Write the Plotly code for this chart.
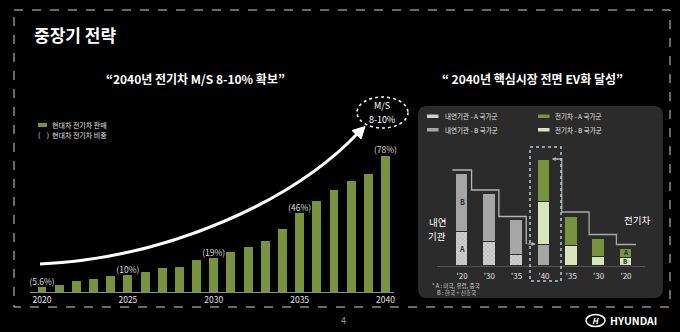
import plotly.graph_objects as go

W, H = 680, 332

# Hyundai EV sales path (relative index) and EV share call-outs
years = list(range(2020, 2041))
ev_sales = [5, 7, 11, 13, 16, 17, 20, 24, 25, 32, 34, 40, 45, 51, 63, 79, 91, 102, 111.5, 118, 136.5]
share_years = [2020, 2025, 2030, 2035, 2040]
share_labels = ["(5.6%)", "(10%)", "(19%)", "(46%)", "(78%)"]
year_ticks = [2020, 2025, 2030, 2035, 2040]

# Core-market powertrain mix: ICE fading out, EV ramping up
mix_ticks = ["'20", "'30", "'35", "'40", "'35", "'30", "'20"]
ice_a = [34, 24, 11.5, 0, 0, 0, 0]
ice_b = [58.5, 48.5, 34.5, 21.5, 0, 0, 0]
ev_b = [0, 0, 0, 43, 20, 9.5, 8.5]
ev_a = [0, 0, 0, 42, 29.5, 17.5, 8.5]

GREEN = "#77933c"
LIGHT_GREEN = "#d8e4bc"
GRAY = "#a6a6a6"
HATCH = "#cfcfcf"
PANEL = "#2b2b2b"


def fx(x):
    return x / W


def fy(y):
    return 1 - y / H


def nz(vals):
    return [v if v else None for v in vals]


fig = go.Figure()

# ---- left: EV sales bars ----
fig.add_bar(x=years, y=ev_sales, width=0.52, marker=dict(color=GREEN, line_width=0),
            xaxis="x", yaxis="y", showlegend=False, hoverinfo="skip")
share_vals = [ev_sales[years.index(y)] for y in share_years]
fig.add_scatter(x=share_years, y=share_vals, mode="text", text=share_labels,
                textposition="top center", textfont=dict(size=8.5, color="#dcdcdc"),
                xaxis="x", yaxis="y", showlegend=False, cliponaxis=False, hoverinfo="skip")

# ---- right: stacked powertrain mix ----
pos = list(range(len(mix_ticks)))
bar_line = dict(color=PANEL, width=1)
fig.add_bar(x=pos, y=nz(ice_a), width=0.46, xaxis="x2", yaxis="y2", showlegend=False,
            marker=dict(color=HATCH, line=bar_line,
                        pattern=dict(shape="x", size=3, solidity=0.35, fgcolor="#9a9a9a", bgcolor=HATCH)))
fig.add_bar(x=pos, y=nz(ice_b), width=0.46, xaxis="x2", yaxis="y2", showlegend=False,
            marker=dict(color=GRAY, line=bar_line))
fig.add_bar(x=pos, y=nz(ev_b), width=0.46, xaxis="x2", yaxis="y2", showlegend=False,
            marker=dict(color=LIGHT_GREEN, line=bar_line))
fig.add_bar(x=pos, y=nz(ev_a), width=0.46, xaxis="x2", yaxis="y2", showlegend=False,
            marker=dict(color=GREEN, line=bar_line))

ice_tot = [a + b for a, b in zip(ice_a, ice_b)]
ev_tot = [a + b for a, b in zip(ev_a, ev_b)]

# step outline over the ICE bars, ending in an arrow into the '40 bar
sx, sy = [pos[0] - 0.35], [ice_tot[0] + 3]
for i in range(3):
    sx += [pos[i] + 0.35, pos[i] + 0.35]
    nxt = ice_tot[i + 1] + 3 if i < 2 else ice_tot[3]
    sy += [ice_tot[i] + 3, nxt]
fig.add_scatter(x=sx, y=sy, mode="lines", line=dict(color="#b5b5b5", width=1.3),
                xaxis="x2", yaxis="y2", showlegend=False, hoverinfo="skip")

# step outline over the EV bars, starting from the '40 bar
top40 = ice_tot[3] + ev_tot[3]
ex, ey = [pos[3] + 0.35], [top40]
prev = top40
for i in (4, 5, 6):
    ex += [pos[i] - 0.35, pos[i] - 0.35]
    ey += [prev, ev_tot[i] + 4]
    prev = ev_tot[i] + 4
ex.append(pos[6] + 0.37)
ey.append(prev)
fig.add_scatter(x=ex, y=ey, mode="lines", line=dict(color="#a8a8a8", width=1.3),
                xaxis="x2", yaxis="y2", showlegend=False, hoverinfo="skip")

annotations = []
# arrowheads of the step outlines
annotations.append(dict(x=pos[3] - 0.3, y=ice_tot[3], ax=pos[2] + 0.35, ay=ice_tot[3],
                        xref="x2", yref="y2", axref="x2", ayref="y2", text="", showarrow=True,
                        arrowhead=2, arrowsize=0.7, arrowwidth=1.2, arrowcolor="#b5b5b5"))
annotations.append(dict(x=pos[3] + 0.28, y=top40, ax=pos[3] + 0.6, ay=top40,
                        xref="x2", yref="y2", axref="x2", ayref="y2", text="", showarrow=True,
                        arrowhead=2, arrowsize=0.7, arrowwidth=1.2, arrowcolor="#a8a8a8"))

# A / B tags inside the 2020 bars
for xv, yv, t, sz in [
    (pos[0], ice_a[0] + ice_b[0] / 2, "B", 7),
    (pos[0], ice_a[0] / 2, "A", 7),
    (pos[6], ev_b[6] + ev_a[6] / 2, "A", 6.3),
    (pos[6], ev_b[6] / 2, "B", 6.3),
]:
    annotations.append(dict(x=xv, y=yv, xref="x2", yref="y2", text=f"<b>{t}</b>",
                            showarrow=False, font=dict(size=sz, color="#2a2a2a"), borderpad=0))


def txt(x, y, text, size, color="white", xanchor="center", **kw):
    annotations.append(dict(x=fx(x), y=fy(y), xref="paper", yref="paper", text=text,
                            showarrow=False, xanchor=xanchor, yanchor="middle",
                            font=dict(size=size, color=color), **kw))


txt(32, 35, "<b>중장기 전략</b>", 17, xanchor="left")
txt(195, 78, "<b>“2040년 전기차 M/S 8-10% 확보”</b>", 12)
txt(532, 78, "<b>“ 2040년 핵심시장 전면 EV화 달성”</b>", 12)

# left legend
txt(50, 125, "현대차 전기차 판매", 7, color="#e0e0e0", xanchor="left")
txt(36, 135, "(    )", 7, color="#e0e0e0", xanchor="left")
txt(50, 135, "현대차 전기차 비중", 7, color="#e0e0e0", xanchor="left")

# market share target bubble
txt(382, 106, "M/S", 9)
txt(382, 119, "8-10%", 9)

# right legend
txt(443, 116, "내연기관 - A 국가군", 6.5, color="#e6e6e6", xanchor="left")
txt(443, 129.5, "내연기관 - B 국가군", 6.5, color="#e6e6e6", xanchor="left")
txt(553, 116, "전기차 - A 국가군", 6.5, color="#e6e6e6", xanchor="left")
txt(553, 129.5, "전기차 - B 국가군", 6.5, color="#e6e6e6", xanchor="left")

txt(437, 222, "내연", 9.5, borderpad=0)
txt(437, 236, "기관", 9.5, borderpad=0)
txt(637, 220, "전기차", 9.5)
txt(431, 285.5, "* A : 미국, 유럽, 중국", 5.6, color="#d0d0d0", xanchor="left", borderpad=0)
txt(436, 293, "B : 한국 + 신흥국", 5.6, color="#d0d0d0", xanchor="left", borderpad=0)

# footer
txt(343, 320, "4", 9, color="#9a9a9a")
txt(595.5, 320.5, "<b><i>H</i></b>", 8)
txt(608, 320.5, "<b>HYUNDAI</b>", 10.5, xanchor="left")

shapes = []


def rounded_rect(x0, y0, x1, y1, r):
    return (f"M {fx(x0 + r)},{fy(y0)} L {fx(x1 - r)},{fy(y0)} "
            f"Q {fx(x1)},{fy(y0)} {fx(x1)},{fy(y0 + r)} L {fx(x1)},{fy(y1 - r)} "
            f"Q {fx(x1)},{fy(y1)} {fx(x1 - r)},{fy(y1)} L {fx(x0 + r)},{fy(y1)} "
            f"Q {fx(x0)},{fy(y1)} {fx(x0)},{fy(y1 - r)} L {fx(x0)},{fy(y0 + r)} "
            f"Q {fx(x0)},{fy(y0)} {fx(x0 + r)},{fy(y0)} Z")


# right panel background
shapes.append(dict(type="path", path=rounded_rect(418, 106, 663, 298, 9), xref="paper", yref="paper",
                   fillcolor=PANEL, line_width=0, layer="below"))
# slide frame
shapes.append(dict(type="rect", x0=fx(14), x1=fx(670), y0=fy(10), y1=fy(307), xref="paper",
                   yref="paper", line=dict(color="#d0d0d0", width=1, dash="dash"), layer="below"))

# growth arrow
shapes.append(dict(type="path", xref="paper", yref="paper",
                   path=f"M {fx(40)},{fy(264)} C {fx(170)},{fy(258)} {fx(295)},{fy(200)} {fx(359)},{fy(132)}",
                   line=dict(color="white", width=3)))
shapes.append(dict(type="path", xref="paper", yref="paper",
                   path=f"M {fx(365)},{fy(126.5)} L {fx(361)},{fy(139)} L {fx(352)},{fy(130.5)} Z",
                   fillcolor="white", line=dict(color="white", width=1)))
# M/S bubble
shapes.append(dict(type="circle", xref="paper", yref="paper", x0=fx(357), x1=fx(408), y0=fy(97),
                   y1=fy(128), line=dict(color="white", width=1.5, dash="dot")))

# left legend swatch
shapes.append(dict(type="rect", xref="paper", yref="paper", x0=fx(38), x1=fx(47), y0=fy(123),
                   y1=fy(127), fillcolor=GREEN, line_width=0))
# right legend swatches
for x0, y0, col in [(427, 114.5, HATCH), (427, 128, GRAY), (538, 114.5, GREEN), (538, 128, LIGHT_GREEN)]:
    shapes.append(dict(type="rect", xref="paper", yref="paper", x0=fx(x0), x1=fx(x0 + 11.5),
                       y0=fy(y0), y1=fy(y0 + 3.5), fillcolor=col, line_width=0))

# highlight frame around the 2040 mix bar
shapes.append(dict(type="rect", xref="paper", yref="paper", x0=fx(530), x1=fx(561), y0=fy(147),
                   y1=fy(281), line=dict(color="#b9c7d2", width=1.5, dash="dot")))

# logo ellipse
shapes.append(dict(type="circle", xref="paper", yref="paper", x0=fx(586), x1=fx(605), y0=fy(314.5),
                   y1=fy(326.5), line=dict(color="white", width=1.5)))

fig.update_layout(
    width=W, height=H, margin=dict(l=0, r=0, t=0, b=0),
    paper_bgcolor="black", plot_bgcolor="rgba(0,0,0,0)",
    font=dict(family="Noto Sans CJK KR, Noto Sans, sans-serif", color="white"),
    barmode="stack", bargap=0,
    xaxis=dict(domain=[fx(30), fx(394)], range=[2019.301, 2040.495], tickvals=year_ticks,
               ticks="", showline=True, linecolor="#8a8a8a", linewidth=1, showgrid=False,
               zeroline=False, tickfont=dict(size=8.5, color="#e0e0e0"), anchor="y", fixedrange=True),
    yaxis=dict(domain=[fy(292), fy(92)], range=[0, 200], visible=False, anchor="x"),
    xaxis2=dict(domain=[fx(437), fx(645)], range=[-0.915, 6.696], tickvals=pos, ticktext=mix_ticks,
                ticks="", showline=True, linecolor="#555555", linewidth=1, showgrid=False,
                zeroline=False, tickfont=dict(size=8, color="#e0e0e0"), anchor="y2",
                ticklabelstandoff=3),
    yaxis2=dict(domain=[fy(265.5), fy(145.5)], range=[0, 120], visible=False, anchor="x2"),
    annotations=annotations,
    shapes=shapes,
)

fig.write_html("out.html")
